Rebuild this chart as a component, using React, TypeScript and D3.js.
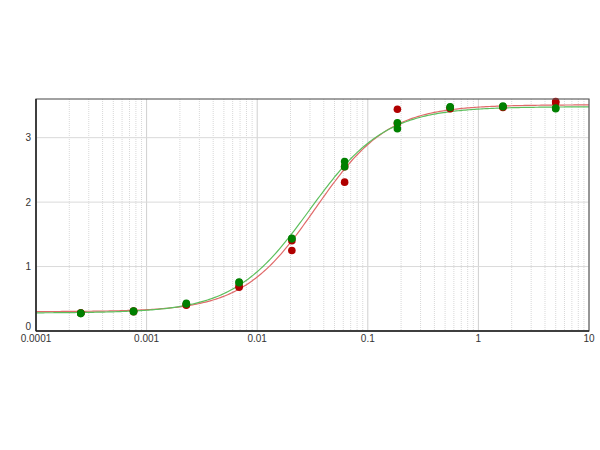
import React from "react";
import * as d3 from "d3";

// Concentrations (3-fold dilution series)
const concentrations = [5, 1.6667, 0.5556, 0.1852, 0.06173, 0.02058, 0.00686, 0.002286, 0.000762, 0.000254];

// Red series: two replicates per concentration
const redRep1 = [3.56, 3.48, 3.46, 3.44, 2.31, 1.25, 0.68, 0.40, 0.31, 0.28];
const redRep2 = [3.54, 3.47, 3.45, 3.22, 2.55, 1.40, 0.70, 0.41, 0.30, 0.28];

// Green series: two replicates per concentration
const greenRep1 = [3.45, 3.48, 3.47, 3.23, 2.63, 1.44, 0.76, 0.43, 0.30, 0.28];
const greenRep2 = [3.46, 3.49, 3.48, 3.14, 2.55, 1.43, 0.75, 0.42, 0.31, 0.27];

// 4-parameter logistic fit parameters: [bottom, top, EC50, hill]
const redFit = [0.30, 3.51, 0.0337, 1.32];
const greenFit = [0.28, 3.48, 0.0298, 1.27];

const xTicks = [0.0001, 0.001, 0.01, 0.1, 1, 10];
const xTickLabels = ["0.0001", "0.001", "0.01", "0.1", "1", "10"];
const yTicks = [0, 1, 2, 3];

const W = 600;
const H = 450;
const M = { left: 36, right: 589, top: 99, bottom: 331 };

const x = d3.scaleLog().domain([0.0001, 10]).range([M.left, M.right]);
const y = d3.scaleLinear().domain([0, 3.6]).range([M.bottom, M.top]);

function fourPL(p: number[], c: number) {
  const [b, t, ec, h] = p;
  return b + (t - b) / (1 + Math.pow(ec / c, h));
}

function curvePath(p: number[]) {
  const samples = d3.range(0, 301).map((i) => Math.pow(10, -4 + (5 * i) / 300));
  const line = d3
    .line<number>()
    .x((c) => x(c))
    .y((c) => y(fourPL(p, c)))
    .curve(d3.curveLinear);
  return line(samples) || "";
}

const minorTicks: number[] = [];
for (let e = -4; e < 1; e++) {
  for (let k = 2; k <= 9; k++) minorTicks.push(k * Math.pow(10, e));
}

const RED_LINE = "#e06a6a";
const GREEN_LINE = "#5cbf5c";
const RED_PT = "#b00000";
const GREEN_PT = "#008000";
const FONT = "'Liberation Sans', Arial, sans-serif";

export default function App() {
  return (
    <svg
      width={W}
      height={H}
      style={{ position: "absolute", left: 0, top: 0, background: "#fff" }}
    >
      <rect x={0} y={0} width={W} height={H} fill="#fff" />
      {/* minor vertical grid */}
      {minorTicks.map((t, i) => (
        <line
          key={"mn" + i}
          x1={x(t)}
          x2={x(t)}
          y1={M.top}
          y2={M.bottom}
          stroke="#d8d8d8"
          strokeWidth={1}
          strokeDasharray="1,1"
        />
      ))}
      {/* major vertical grid */}
      {xTicks.map((t, i) => (
        <line
          key={"mj" + i}
          x1={x(t)}
          x2={x(t)}
          y1={M.top}
          y2={M.bottom}
          stroke="#d0d0d0"
          strokeWidth={1}
        />
      ))}
      {/* horizontal grid */}
      {yTicks.map((t) => (
        <line
          key={"h" + t}
          x1={M.left}
          x2={M.right}
          y1={y(t)}
          y2={y(t)}
          stroke="#dadada"
          strokeWidth={1}
        />
      ))}

      {/* curves */}
      <path d={curvePath(redFit)} fill="none" stroke={RED_LINE} strokeWidth={1.2} />
      <path d={curvePath(greenFit)} fill="none" stroke={GREEN_LINE} strokeWidth={1.2} />

      {/* red points */}
      {concentrations.map((c, i) => (
        <g key={"r" + i}>
          <circle cx={x(c)} cy={y(redRep1[i])} r={3.8} fill={RED_PT} />
          <circle cx={x(c)} cy={y(redRep2[i])} r={3.8} fill={RED_PT} />
        </g>
      ))}
      {/* green points */}
      {concentrations.map((c, i) => (
        <g key={"g" + i}>
          <circle cx={x(c)} cy={y(greenRep1[i])} r={3.8} fill={GREEN_PT} />
          <circle cx={x(c)} cy={y(greenRep2[i])} r={3.8} fill={GREEN_PT} />
        </g>
      ))}

      {/* frame */}
      <rect
        x={M.left}
        y={M.top}
        width={M.right - M.left}
        height={M.bottom - M.top}
        fill="none"
        stroke="#555"
        strokeWidth={1.1}
      />
      <line x1={M.left} x2={M.right} y1={M.bottom} y2={M.bottom} stroke="#222" strokeWidth={1.5} />
      <line x1={M.left} x2={M.left} y1={M.top} y2={M.bottom} stroke="#222" strokeWidth={1.5} />

      {/* y labels */}
      {yTicks.map((t) => (
        <text
          key={"yl" + t}
          x={31}
          y={t === 0 ? y(t) - 5 : y(t)}
          dy="0.35em"
          textAnchor="end"
          fontFamily={FONT}
          fontSize={10}
          fill="#333"
        >
          {t}
        </text>
      ))}
      {/* x labels */}
      {xTicks.map((t, i) => (
        <text
          key={"xl" + i}
          x={x(t)}
          y={342}
          textAnchor="middle"
          fontFamily={FONT}
          fontSize={10}
          fill="#333"
        >
          {xTickLabels[i]}
        </text>
      ))}
    </svg>
  );
}
